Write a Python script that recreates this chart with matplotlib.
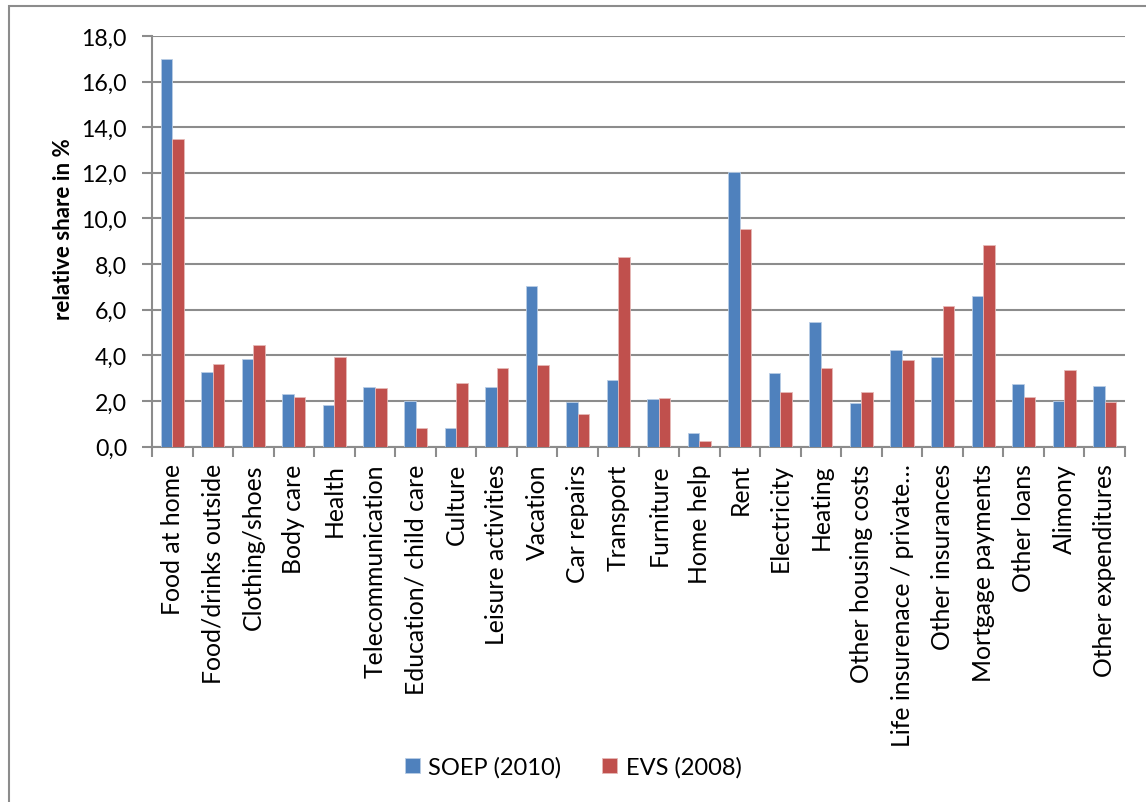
import matplotlib
matplotlib.use("Agg")
import matplotlib.pyplot as plt
from matplotlib.ticker import FuncFormatter
from matplotlib.patches import Rectangle
import numpy as np

categories = [
    "Food at home", "Food/drinks outside", "Clothing/shoes", "Body care", "Health",
    "Telecommunication", "Education/ child care", "Culture", "Leisure activities",
    "Vacation", "Car repairs", "Transport", "Furniture", "Home help", "Rent",
    "Electricity", "Heating", "Other housing costs", "Life insurenace / private\u2026",
    "Other insurances", "Mortgage payments", "Other loans", "Alimony",
    "Other expenditures",
]
soep_2010 = [17.0, 3.25, 3.82, 2.29, 1.81, 2.63, 2.01, 0.79, 2.60, 7.03, 1.97, 2.90,
             2.09, 0.58, 12.03, 3.24, 5.46, 1.90, 4.23, 3.91, 6.62, 2.73, 1.98, 2.67]
evs_2008 = [13.5, 3.63, 4.43, 2.16, 3.91, 2.58, 0.82, 2.80, 3.43, 3.59, 1.44, 8.31,
            2.11, 0.25, 9.55, 2.41, 3.43, 2.41, 3.81, 6.14, 8.84, 2.16, 3.37, 1.95]
series_names = ["SOEP (2010)", "EVS (2008)"]
y_ticks = [0, 2, 4, 6, 8, 10, 12, 14, 16, 18]

BLUE = "#4F81BD"
RED = "#C0504D"
GRID = "#8C8C8C"

plt.rcParams["font.family"] = ["Lato", "DejaVu Sans"]

fig = plt.figure(figsize=(11.46, 8.03), dpi=100)
ax = fig.add_axes([152 / 1146, 1 - 447.5 / 803, (1125 - 152) / 1146, (447.5 - 37) / 803])

x = np.arange(len(categories))
w = 0.285
ax.bar(x - w / 2, soep_2010, width=w, color=BLUE, edgecolor="#B9CDE5", linewidth=0.6,
       label=series_names[0], zorder=3)
ax.bar(x + w / 2, evs_2008, width=w, color=RED, edgecolor="#E6B9B8", linewidth=0.6,
       label=series_names[1], zorder=3)

ax.set_xlim(-0.5, len(categories) - 0.5)
ax.set_ylim(0, 18)
ax.set_yticks(y_ticks)
ax.yaxis.set_major_formatter(FuncFormatter(lambda v, p: f"{v:.1f}".replace(".", ",")))
ax.yaxis.grid(True, color=GRID, linewidth=1.5, zorder=0)
ax.set_axisbelow(True)

# category boundaries carry the tick marks; labels sit at the centres
ax.set_xticks(np.arange(len(categories) + 1) - 0.5, minor=False)
ax.set_xticklabels([])
ax.set_xticks(x, minor=True)
ax.set_xticklabels(categories, minor=True, rotation=90, fontsize=17.8, va="top", ha="center")
ax.tick_params(axis="x", which="major", length=7, width=1.5, color=GRID, direction="out")
ax.tick_params(axis="x", which="minor", length=0, pad=12)
ax.tick_params(axis="y", which="major", length=7, width=1.5, color=GRID, direction="out",
               labelsize=16.7, pad=11)

for side in ["top", "right"]:
    ax.spines[side].set_visible(False)
for side in ["left", "bottom"]:
    ax.spines[side].set_color(GRID)
    ax.spines[side].set_linewidth(1.5)

ax.set_ylabel("relative share in %", fontsize=16, fontweight="bold")
ax.yaxis.set_label_coords(-0.08, 0.532)

fig.legend(loc="center", bbox_to_anchor=(0.5, 1 - 768 / 803), ncol=2, frameon=False,
           fontsize=17, handlelength=0.66, handleheight=0.66, handletextpad=0.35,
           columnspacing=1.7)

# chart area border
fig.patches.append(Rectangle((8.5 / 1146, -0.1), 1.2, 1 - 7 / 803 + 0.1,
                             transform=fig.transFigure, fill=False,
                             edgecolor="#8C8C8C", linewidth=1.5))

fig.savefig("out.png", dpi=100)
